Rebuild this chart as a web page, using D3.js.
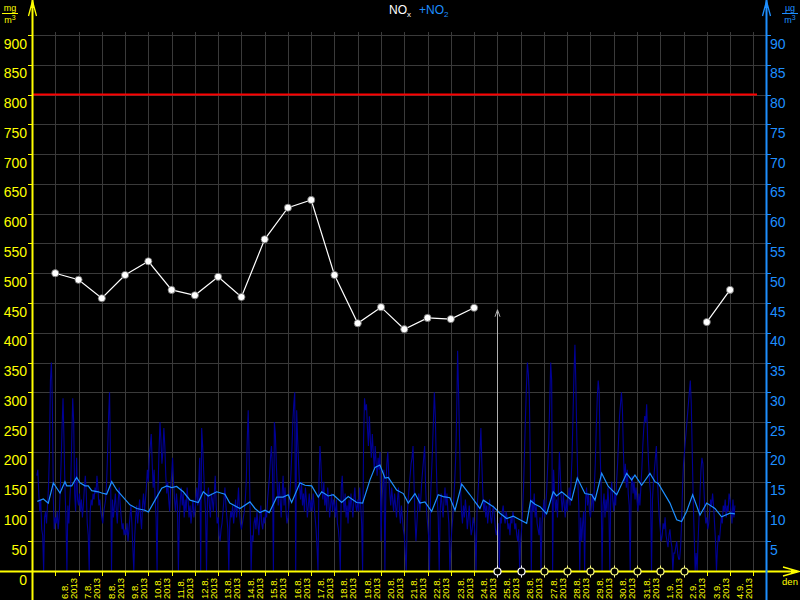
<!DOCTYPE html>
<html><head><meta charset="utf-8">
<script src="https://cdn.jsdelivr.net/npm/d3@7"></script>
<style>html,body{margin:0;padding:0;background:#000;}svg{display:block;}</style>
</head><body><svg id="c" width="800" height="600"></svg>
<script>
// ---------- DATA ----------
const leftTickLabels = ["0","50","100","150","200","250","300","350","400","450","500","550","600","650","700","750","800","850","900"];
const rightTickLabels = ["5","10","15","20","25","30","35","40","45","50","55","60","65","70","75","80","85","90"];
const dayLabels = ["6.8.","7.8.","8.8.","9.8.","10.8.","11.8.","12.8.","13.8.","14.8.","15.8.","16.8.","17.8.","18.8.","19.8.","20.8.","21.8.","22.8.","23.8.","24.8.","25.8.","26.8.","27.8.","28.8.","29.8.","30.8.","31.8.","1.9.","2.9.","3.9.","4.9."];
const yearLabel = "2013";
const limitValue = 800;
// NOx daily values (left axis), one per day label, null = missing
const noxDaily = [500,489,458,497,520,472,463,494,460,557,610,623,497,416,443,406,425,423,442,null,null,null,null,null,null,null,null,null,418,472];
// NO2 hourly values (right axis), starting 5.8.2013 05:00
const no2Start = "2013-08-05T05:00:00Z";
const no2Hourly = [
 16,17,13,10,12,7,6,0,9,10,8,11,14,20,32,35,28,12,7,                 // 5.8 (05-23)
 9,8,10,7,9,13,18,24,29,22,14,9,0,11,8,12,15,22,29,25,13,10,19,12,     // 6.8
 11,13,10,12,9,11,14,16,13,8,6,0,10,12,11,13,12,14,13,16,14,11,12,10,  // 7.8
 9,8,10,11,12,15,20,26,30,18,0,12,9,11,13,10,8,12,14,11,9,7,8,6,       // 8.8
 7,6,8,5,7,9,11,8,4,0,6,9,11,8,10,12,9,7,11,13,10,12,14,17,            // 9.8
 15,19,21,23,18,14,17,12,9,0,14,20,25,22,18,20,24,21,16,13,15,12,10,14,// 10.8
 16,19,15,12,10,13,11,0,9,12,14,11,13,9,12,10,14,12,9,11,8,10,12,9,    // 11.8
 10,12,14,11,15,19,0,24,21,17,13,10,0,12,14,11,9,13,12,10,13,16,11,8,  // 12.8
 9,6,5,7,8,10,12,14,11,9,7,0,8,10,9,11,8,10,12,9,11,14,10,8,           // 13.8
 7,8,9,10,12,15,22,27,19,10,0,6,5,8,9,7,10,8,6,9,11,8,7,9,             // 14.8
 8,10,9,12,14,16,19,21,17,0,25,23,18,14,11,15,12,9,13,16,11,14,10,8,   // 15.8
 9,11,13,16,20,25,28,30,0,27,22,18,14,12,15,11,13,10,14,12,9,11,13,10, // 16.8
 12,10,13,11,9,7,4,0,15,21,18,14,12,15,11,13,10,14,12,9,11,13,10,12,   // 17.8
 11,9,12,8,7,5,0,14,16,12,10,13,9,11,8,12,10,13,11,9,12,14,11,10,      // 18.8
 12,10,14,11,8,0,22,29,27,28,24,21,26,22,19,23,20,17,21,18,16,19,17,20,// 19.8
 5,12,15,17,0,14,18,20,16,13,11,14,12,10,13,11,9,12,14,10,8,11,9,7,    // 20.8
 6,3,0,9,12,14,16,18,19,21,15,9,5,8,11,13,10,12,15,17,19,21,14,10,     // 21.8
 8,6,0,12,16,20,25,30,26,18,12,9,0,10,13,11,9,12,14,11,13,10,8,0,      // 22.8
 4,7,9,12,15,19,26,37,30,22,14,10,8,11,9,12,10,7,9,11,8,6,7,9,         // 23.8
 8,6,0,10,13,16,20,24,18,13,10,12,9,11,8,10,12,9,8,10,11,9,7,6,        // 24.8
 7,8,0,9,8,10,11,9,8,10,9,7,8,6,9,8,10,9,7,8,6,5,7,0,                  // 25.8
 5,7,10,14,20,26,31,35,33,29,18,0,12,10,13,9,11,8,7,6,9,0,8,10,        // 26.8
 12,9,11,14,18,22,28,35,32,0,17,13,10,12,9,14,20,16,12,10,13,11,9,12,  // 27.8
 10,12,14,11,15,19,26,33,38,31,22,15,11,0,9,5,8,10,0,12,14,11,13,10,   // 28.8
 9,11,13,10,14,18,24,29,32,30,20,14,0,11,13,9,12,10,14,11,0,13,15,12,  // 29.8
 10,13,11,15,18,22,26,28,30,27,20,15,18,14,17,13,11,0,14,16,13,15,12,14,// 30.8
 12,10,13,11,14,17,21,24,26,25,28,22,18,15,13,0,12,15,17,19,21,16,12,9,// 31.8
 7,5,6,8,7,9,6,5,4,6,7,5,4,0,3,3,4,5,3,2,2,4,8,14,                     // 1.9
 18,20,22,24,26,28,30,32,28,20,12,6,0,3,0,5,9,13,17,19,18,14,10,8,     // 2.9
 9,7,8,10,12,11,13,11,8,5,0,4,6,5,7,9,8,11,10,12,9,11,10,13,           // 3.9
 12,10,8,12,9,11                                                       // 4.9 (00-05)
];
// NO2 running mean (right axis): hours since 5.8.2013 00:00 and values
const no2MeanHours = [5.5,11.7,16.8,22,28.9,34,35.8,41,46,49.5,54.7,58,61.6,68.4,71.9,77,82.2,87.4,101,108,116.5,120,126.9,133.8,139,144,149.2,156,163,171.5,176.7,181.8,190.5,199,204,214.5,224.8,230,235,240.3,244.7,252.4,259,264.3,267.8,276.4,281.6,288.5,295.3,298.8,305.6,310.7,319.4,326.2,334.9,341,348.6,353.8,358.9,364.1,367.5,376.1,383,388.1,395,400.2,405.3,412.2,419,424.2,431.1,436.3,443.2,451.7,462,465.5,475.8,482.7,489.6,496.4,503.3,510.2,514.3,518.8,524,530.8,537.6,541.1,546.3,551.5,556.6,562.4,570.3,577.3,580.7,587.6,594.4,603.1,613.4,618.5,621.9,628.8,637.4,642.5,646,658,665,670,675.2,681.4,689,695.9,704.4,711.3,719.9,725];
const no2MeanValues = [11.7,12.1,11.4,14.8,13.1,15.0,14.3,14.3,15.7,14.8,14.3,14.3,13.5,13.3,13.1,12.9,15.0,13.6,11.1,10.5,10.2,9.9,11.9,13.9,14.3,14.0,14.2,13.3,11.9,11.5,13.3,12.6,13.3,12.9,11.4,10.5,11.6,10.5,9.8,10.2,9.8,12.4,12.4,12.8,11.5,14.8,14.4,14.3,12.4,13.3,12.6,12.8,11.5,12.5,11.5,11.4,15.3,17.4,17.8,15.6,15.7,13.6,13.0,11.4,13.0,11.4,11.6,10.0,12.8,12.5,12.3,10.2,14.6,12.8,10.5,11.9,10.8,9.7,8.8,9.2,8.6,8.0,11.8,11.2,10.8,9.6,13.3,12.6,13.3,12.6,11.9,15.6,13.0,12.8,11.9,16.4,14.2,12.8,16.4,15.3,16.1,14.4,16.4,15.0,14.7,11.4,8.6,8.3,10.0,12.8,9.4,11.4,10.5,9.1,9.7,9.6];

// ---------- CHART ----------
const W = 800, H = 600;
const svg = d3.select("#c");
svg.append("rect").attr("width", W).attr("height", H).attr("fill", "#000");

const YELLOW = "#ffff00", BLUE = "#1e8fff", NAVY = "#000096", GRID = "#3a3a3a";
const FONT = "Liberation Sans, Arial, sans-serif";
const t0 = Date.UTC(2013, 7, 5);
const HOUR = 3600e3;
const x = d3.scaleUtc().domain([new Date(t0), new Date(t0 + (31 * 24 + 13.8) * HOUR)]).range([32, 766.7]);
const yL = d3.scaleLinear().domain([0, 900]).range([571, 35]);
const yR = d3.scaleLinear().domain([0, 90]).range([571, 35]);

// day dates from labels
const dayDates = dayLabels.map(s => { const p = s.split("."); return new Date(Date.UTC(+yearLabel, +p[1] - 1, +p[0])); });
const boundaries = dayDates.concat([d3.utcDay.offset(dayDates[dayDates.length - 1], 1)]);

// grid
const g = svg.append("g");
g.selectAll("line.h").data(leftTickLabels.slice(1)).join("line")
  .attr("x1", 32).attr("x2", x.range()[1]).attr("y1", d => Math.round(yL(+d)) + 0.5).attr("y2", d => Math.round(yL(+d)) + 0.5)
  .attr("stroke", GRID).attr("stroke-width", 1);
g.selectAll("line.v").data(boundaries).join("line")
  .attr("x1", d => Math.round(x(d)) + 0.5).attr("x2", d => Math.round(x(d)) + 0.5)
  .attr("y1", 32).attr("y2", 571)
  .attr("stroke", GRID).attr("stroke-width", 1);

// limit line
svg.append("line").attr("x1", 32).attr("x2", 757).attr("y1", yL(limitValue)).attr("y2", yL(limitValue))
  .attr("stroke", "#ff0000").attr("stroke-width", 2);

// NO2 hourly
const st = new Date(no2Start).getTime();
const hourly = no2Hourly.map((v, i) => ({ t: new Date(st + i * HOUR), v }));
svg.append("path").datum(hourly)
  .attr("d", d3.line().x(d => x(d.t)).y(d => yR(d.v)))
  .attr("fill", "none").attr("stroke", NAVY).attr("stroke-width", 1.1);

// NO2 mean
const mean = no2MeanHours.map((h, i) => ({ t: new Date(t0 + h * HOUR), v: no2MeanValues[i] }));
svg.append("path").datum(mean)
  .attr("d", d3.line().x(d => x(d.t)).y(d => yR(d.v)))
  .attr("fill", "none").attr("stroke", BLUE).attr("stroke-width", 1.2);

// gray marker arrow at first missing day
const firstMissing = noxDaily.findIndex(v => v === null);
const lastVal = noxDaily[firstMissing - 1];
const ax = Math.round(x(dayDates[firstMissing])) + 0.5;
svg.append("line").attr("x1", ax).attr("x2", ax).attr("y1", 571).attr("y2", yL(lastVal) + 2)
  .attr("stroke", "#b0b0b0").attr("stroke-width", 1);
svg.append("path").attr("d", `M${ax - 2.5},${yL(lastVal) + 9}L${ax},${yL(lastVal) + 2}L${ax + 2.5},${yL(lastVal) + 9}`)
  .attr("fill", "none").attr("stroke", "#b0b0b0").attr("stroke-width", 1);

// NOx daily
const nox = dayDates.map((d, i) => ({ t: d, v: noxDaily[i] }));
svg.append("path").datum(nox)
  .attr("d", d3.line().defined(d => d.v !== null).x(d => x(d.t)).y(d => yL(d.v)))
  .attr("fill", "none").attr("stroke", "#fff").attr("stroke-width", 1.2);
svg.selectAll("circle.nox").data(nox.filter(d => d.v !== null)).join("circle")
  .attr("cx", d => x(d.t)).attr("cy", d => yL(d.v)).attr("r", 3.6)
  .attr("fill", "#fff").attr("stroke", "#666").attr("stroke-width", 0.8);

// axes lines
svg.append("line").attr("x1", 0).attr("x2", 797).attr("y1", 571.5).attr("y2", 571.5).attr("stroke", YELLOW).attr("stroke-width", 2);
svg.append("line").attr("x1", 32.5).attr("x2", 32.5).attr("y1", 0).attr("y2", 600).attr("stroke", YELLOW).attr("stroke-width", 2);
svg.append("line").attr("x1", 766.5).attr("x2", 766.5).attr("y1", 0).attr("y2", 600).attr("stroke", BLUE).attr("stroke-width", 2);

// arrowheads
function upArrow(cx, col) {
  svg.append("path").attr("d", `M${cx - 4},16L${cx},1L${cx + 4},16`).attr("fill", "none").attr("stroke", col).attr("stroke-width", 1.3);
  svg.append("path").attr("d", `M${cx - 1.8},8L${cx},0L${cx + 1.8},8Z`).attr("fill", col);
}
upArrow(32.5, YELLOW); upArrow(766.5, BLUE);
svg.append("path").attr("d", `M783,567L799,571.5L783,576`).attr("fill", "none").attr("stroke", YELLOW).attr("stroke-width", 1.3);
svg.append("path").attr("d", `M791,569.5L800,571.5L791,573.5Z`).attr("fill", YELLOW);
svg.append("text").attr("x", 790).attr("y", 585).attr("text-anchor", "middle").attr("fill", YELLOW)
  .attr("font-family", FONT).attr("font-size", 9.5).text("den");

// left ticks & labels
svg.selectAll("line.lt").data(leftTickLabels.slice(1)).join("line")
  .attr("x1", 28).attr("x2", 32).attr("y1", d => Math.round(yL(+d)) + 0.5).attr("y2", d => Math.round(yL(+d)) + 0.5)
  .attr("stroke", YELLOW).attr("stroke-width", 1);
svg.selectAll("text.ll").data(leftTickLabels).join("text")
  .attr("x", 27).attr("y", d => yL(+d) + 13.5).attr("text-anchor", "end")
  .attr("fill", YELLOW).attr("font-family", FONT).attr("font-size", 14)
  .text(d => d);
// right ticks & labels
svg.selectAll("line.rt").data(rightTickLabels).join("line")
  .attr("x1", 767).attr("x2", 771).attr("y1", d => Math.round(yR(+d)) + 0.5).attr("y2", d => Math.round(yR(+d)) + 0.5)
  .attr("stroke", BLUE).attr("stroke-width", 1);
svg.selectAll("text.rl").data(rightTickLabels).join("text")
  .attr("x", 770).attr("y", d => yR(+d) + 13.5)
  .attr("fill", BLUE).attr("font-family", FONT).attr("font-size", 14)
  .text(d => d);

// bottom ticks
svg.selectAll("line.bt").data(boundaries).join("line")
  .attr("x1", d => Math.round(x(d)) + 0.5).attr("x2", d => Math.round(x(d)) + 0.5)
  .attr("y1", 571).attr("y2", 576).attr("stroke", YELLOW).attr("stroke-width", 1);
// day labels
const lab = svg.selectAll("g.dl").data(dayDates).join("g")
  .attr("transform", (d, i) => `translate(${x(boundaries[i + 1])},600) rotate(-90)`);
lab.append("text").attr("x", 1).attr("y", -10.5).attr("fill", YELLOW)
  .attr("font-family", FONT).attr("font-size", 9.5).text((d, i) => dayLabels[i]);
lab.append("text").attr("x", 1).attr("y", -1.5).attr("fill", YELLOW)
  .attr("font-family", FONT).attr("font-size", 9.5).text(yearLabel);

// missing-data markers on the axis
const miss = nox.filter(d => d.v === null);
const mk = svg.selectAll("g.mk").data(miss).join("g").attr("transform", d => `translate(${Math.round(x(d.t)) + 0.5},571.5)`);
mk.append("line").attr("y1", -6).attr("y2", 6).attr("stroke", (d, i) => i < 2 ? "#fff" : "#ffff80").attr("stroke-width", 1);
mk.append("circle").attr("r", 3.5).attr("fill", "#000").attr("stroke", (d, i) => i < 2 ? "#fff" : "#ffff80").attr("stroke-width", 1.2);

// units
function unit(cx, col, top) {
  const gg = svg.append("g").attr("fill", col).attr("font-family", FONT).attr("font-size", 9);
  gg.append("text").attr("x", cx).attr("y", 11).attr("text-anchor", "middle").text(top);
  gg.append("line").attr("x1", cx - 8).attr("x2", cx + 8).attr("y1", 13.5).attr("y2", 13.5).attr("stroke", col).attr("stroke-width", 1);
  const t = gg.append("text").attr("x", cx).attr("y", 23).attr("text-anchor", "middle");
  t.append("tspan").text("m");
  t.append("tspan").attr("dy", -3).attr("font-size", 7).text("3");
}
unit(10, YELLOW, "mg"); unit(790, BLUE, "µg");

// title
const title = svg.append("text").attr("x", 389).attr("y", 14)
  .attr("font-family", FONT).attr("font-size", 12);
title.append("tspan").attr("fill", "#fff").text("NO");
title.append("tspan").attr("fill", "#fff").attr("font-size", 8).attr("dy", 3).text("x");
title.append("tspan").attr("fill", BLUE).attr("dy", -3).attr("dx", 8).text("+NO");
title.append("tspan").attr("fill", BLUE).attr("font-size", 8).attr("dy", 3).text("2");
</script></body></html>
